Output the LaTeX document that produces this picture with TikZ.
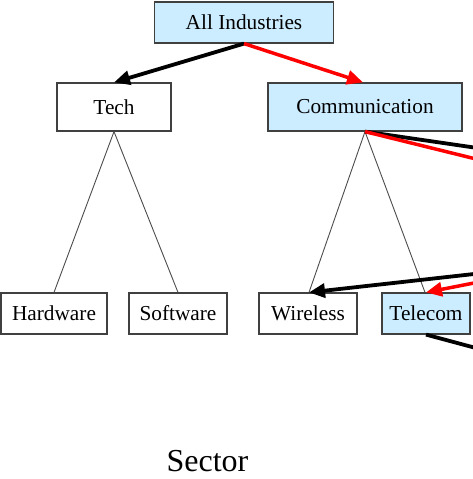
\documentclass[tikz,border=0pt]{standalone}
\usepackage{fontspec}
\setmainfont{Liberation Serif}
\usetikzlibrary{arrows.meta}
\definecolor{boxblue}{HTML}{CCECFF}
\definecolor{boxedge}{HTML}{404040}
\begin{document}
\begin{tikzpicture}[x=1pt,y=-1pt,
  box/.style={draw=boxedge,line width=1.2pt,inner sep=0pt,font=\fontsize{21.3}{25}\selectfont},
  hl/.style={box,fill=boxblue},
  thin/.style={draw=black!70,line width=0.9pt},
  heavy/.style={line width=3.8pt,draw=black},
  heavyred/.style={line width=3.5pt,draw=red},
  tip/.style={-{Triangle[length=16pt,width=14pt]}}]
\useasboundingbox (0,0) rectangle (472,479);
\node[hl,minimum width=179pt,minimum height=41pt] (ai) at (244,22.5) {All Industries};
\node[box,minimum width=114pt,minimum height=48pt] (tech) at (114,107) {Tech};
\node[hl,minimum width=194pt,minimum height=48pt] (comm) at (365,107) {Communication};
\node[box,minimum width=106pt,minimum height=41pt] (hw) at (54,313.5) {Hardware};
\node[box,minimum width=98pt,minimum height=41pt] (sw) at (178,313.5) {Software};
\node[box,minimum width=98pt,minimum height=41pt] (wl) at (308,313.5) {Wireless};
\node[hl,minimum width=88pt,minimum height=41pt] (tc) at (426,313.5) {Telecom};
\node[font=\fontsize{32}{36}\selectfont,inner sep=0pt,anchor=base] (sector) at (207.5,471) {Sector};
\coordinate (e1) at (474,147.5);
\coordinate (e2) at (474,158.5);
\coordinate (e3) at (474,274);
\coordinate (e4) at (474,283);
\coordinate (e5) at (474,347.5);
\draw[thin] (tech.south) -- (hw.north);
\draw[thin] (tech.south) -- (sw.north);
\draw[thin] (comm.south) -- ([xshift=1pt]wl.north);
\draw[thin] (comm.south) -- ([xshift=-1pt]tc.north);
\draw[heavy,tip] (ai.south) -- (tech.north);
\draw[heavyred,tip,red] (ai.south) -- ([xshift=-2pt]comm.north);
\draw[heavy] (comm.south) -- (e1);
\draw[heavyred] (comm.south) -- (e2);
\draw[heavy,tip] (e3) -- ([xshift=1pt]wl.north);
\draw[heavyred,tip,red] (e4) -- (tc.north);
\draw[heavy] (tc.south) -- (e5);
\end{tikzpicture}
\end{document}
